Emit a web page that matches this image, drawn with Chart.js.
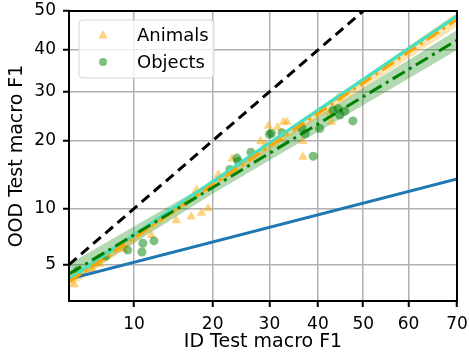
<!DOCTYPE html>
<html>
<head>
<meta charset="utf-8">
<script src="https://cdn.jsdelivr.net/npm/chart.js@4/dist/chart.umd.min.js"></script>
<style>
  body { margin: 0; background: #fff; }
</style>
</head>
<body>
<canvas id="f1Chart" width="469" height="354"></canvas>
<script>
// values are macro F1 in percent
const xTicks = [10, 20, 30, 40, 50, 60, 70];
const yTicks = [5, 10, 20, 30, 40, 50];

const animalsX = [29.8, 31.6, 32.8, 33.5, 28.3, 29.2, 23.2, 20.9, 17.6, 19.3, 18.3, 16.8, 36.8, 36.8, 43.0, 42.6, 44.4, 14.8, 11.8, 5.3, 6.5, 7.0, 9.0];
const animalsY = [22.8, 22.5, 23.6, 23.6, 19.9, 19.4, 16.9, 14.4, 12.3, 10.0, 9.5, 9.1, 19.9, 17.2, 23.6, 25.3, 28.7, 8.7, 7.3, 3.8, 4.7, 5.05, 6.1];

const objectsX = [9.4, 10.8, 10.9, 12.1, 30.0, 30.4, 32.5, 26.5, 24.0, 24.2, 22.8, 36.6, 37.3, 40.4, 43.3, 44.4, 44.8, 45.9, 47.7, 39.0, 5.5, 7.5];
const objectsY = [6.05, 5.9, 6.6, 6.8, 21.2, 21.4, 21.5, 18.0, 17.0, 16.5, 15.2, 22.3, 21.3, 22.3, 26.0, 26.3, 25.0, 25.8, 23.8, 17.3, 4.6, 5.6];

const diagX = [5, 50], diagY = [5, 50];
const baseX = [5, 70], baseY = [4.1, 13.8];
const fitX = [5, 70];
const animalsFitY = [3.95, 47.8];
const objectsFitY = [4.4, 42.5];
const allFitY = [4.1, 48.7];

const bandX = [5, 20, 70];
const animalsLo = [3.62, 12.6, 46.0];
const animalsHi = [4.3, 13.4, 49.6];
const objectsLo = [3.83, 11.8, 40.0];
const objectsHi = [5.04, 13.5, 45.1];

// inverse normal cdf (Acklam)
function probit(p) {
    const a = [-3.969683028665376e+01, 2.209460984245205e+02, -2.759285104469687e+02, 1.383577518672690e+02, -3.066479806614716e+01, 2.506628277459239e+00];
    const b = [-5.447609879822406e+01, 1.615858368580409e+02, -1.556989798598866e+02, 6.680131188771972e+01, -1.328068155288572e+01];
    const c = [-7.784894002430293e-03, -3.223964580411365e-01, -2.400758277161838e+00, -2.549732539343734e+00, 4.374664141464968e+00, 2.938163982698783e+00];
    const d = [7.784695709041462e-03, 3.224671290700398e-01, 2.445134137142996e+00, 3.754408661907416e+00];
    const pl = 0.02425;
    let q, r;
    if (p < pl) {
        q = Math.sqrt(-2 * Math.log(p));
        return (((((c[0]*q+c[1])*q+c[2])*q+c[3])*q+c[4])*q+c[5]) / ((((d[0]*q+d[1])*q+d[2])*q+d[3])*q+1);
    }
    if (p > 1 - pl) {
        q = Math.sqrt(-2 * Math.log(1 - p));
        return -(((((c[0]*q+c[1])*q+c[2])*q+c[3])*q+c[4])*q+c[5]) / ((((d[0]*q+d[1])*q+d[2])*q+d[3])*q+1);
    }
    q = p - 0.5;
    r = q * q;
    return (((((a[0]*r+a[1])*r+a[2])*r+a[3])*r+a[4])*r+a[5])*q / (((((b[0]*r+b[1])*r+b[2])*r+b[3])*r+b[4])*r+1);
}
const P = v => probit(v / 100);
const toPoints = (xs, ys) => xs.map((x, i) => ({ x: P(x), y: P(ys[i]) }));

function lineSet(label, xs, ys, color, dash, width, order) {
    return {
        label: label,
        data: toPoints(xs, ys),
        showLine: true,
        borderColor: color,
        borderWidth: width,
        borderDash: dash,
        pointRadius: 0,
        fill: false,
        order: order
    };
}
function bandEdge(xs, ys, fillColor, order) {
    return {
        label: '',
        data: toPoints(xs, ys),
        showLine: true,
        borderWidth: 0,
        borderColor: 'rgba(0,0,0,0)',
        pointRadius: 0,
        backgroundColor: fillColor,
        fill: fillColor ? '-1' : false,
        order: order
    };
}

const datasets = [
    bandEdge(bandX, objectsLo, null, 30),
    bandEdge(bandX, objectsHi, 'rgba(0,128,0,0.3)', 30),
    bandEdge(bandX, animalsLo, null, 29),
    bandEdge(bandX, animalsHi, 'rgba(255,165,0,0.3)', 29),
    {
        label: 'Animals',
        data: toPoints(animalsX, animalsY),
        pointStyle: 'triangle',
        pointRadius: 5.5,
        pointBackgroundColor: 'rgba(255,165,0,0.5)',
        pointBorderWidth: 0,
        order: 20
    },
    {
        label: 'Objects',
        data: toPoints(objectsX, objectsY),
        pointStyle: 'circle',
        pointRadius: 4.5,
        pointBackgroundColor: 'rgba(0,128,0,0.5)',
        pointBorderWidth: 0,
        order: 19
    },
    lineSet('base', baseX, baseY, '#1f77b4', [], 3, 5),
    lineSet('all', fitX, allFitY, '#48e0c0', [], 3.5, 4),
    lineSet('animals fit', fitX, animalsFitY, '#ffa500', [14, 5, 3, 5], 3, 3),
    lineSet('objects fit', fitX, objectsFitY, '#008000', [14, 5, 3, 5], 3, 2),
    lineSet('y=x', diagX, diagY, '#000000', [10, 6], 3, 1)
];

// top/right spines plus frame
const framePlugin = {
    id: 'frame',
    afterDatasetsDraw(chart) {
        const a = chart.chartArea, ctx = chart.ctx;
        ctx.save();
        ctx.strokeStyle = '#000';
        ctx.lineWidth = 2;
        ctx.strokeRect(a.left, a.top, a.right - a.left, a.bottom - a.top);
        ctx.restore();
    }
};

// legend drawn inside the axes, upper left
const legendPlugin = {
    id: 'innerLegend',
    afterDraw(chart) {
        const ctx = chart.ctx, a = chart.chartArea;
        const x0 = a.left + 10, y0 = a.top + 9, w = 135, h = 58;
        ctx.save();
        ctx.beginPath();
        ctx.roundRect(x0, y0, w, h, 4);
        ctx.fillStyle = 'rgba(255,255,255,0.8)';
        ctx.fill();
        ctx.strokeStyle = '#d5d5d5';
        ctx.lineWidth = 1;
        ctx.stroke();
        const items = [chart.data.datasets[4], chart.data.datasets[5]];
        items.forEach((ds, i) => {
            const cy = y0 + 15 + i * 27;
            ctx.fillStyle = ds.pointBackgroundColor;
            ctx.beginPath();
            if (ds.pointStyle === 'triangle') {
                const r = 5;
                ctx.moveTo(x0 + 24, cy - r);
                ctx.lineTo(x0 + 24 + r * 0.95, cy + r * 0.7);
                ctx.lineTo(x0 + 24 - r * 0.95, cy + r * 0.7);
                ctx.closePath();
            } else {
                ctx.arc(x0 + 24, cy, 4, 0, Math.PI * 2);
            }
            ctx.fill();
            ctx.fillStyle = '#000';
            ctx.font = '18px "DejaVu Sans"';
            ctx.textBaseline = 'middle';
            ctx.fillText(ds.label, x0 + 58, cy + 1);
        });
        ctx.restore();
    }
};

const tickFont = { family: 'DejaVu Sans', size: 17 };
const titleFont = { family: 'DejaVu Sans', size: 19 };

function axis(ticksList, min, max, title, titlePad, size) {
    return {
        type: 'linear',
        min: P(min),
        max: P(max),
        afterBuildTicks: s => { s.ticks = ticksList.map(v => ({ value: P(v) })); },
        afterFit: s => {
            if (s.isHorizontal()) s.height = size; else s.width = size;
            s.paddingTop = 0; s.paddingBottom = 0;
            s.paddingLeft = 0; s.paddingRight = 0;
        },
        ticks: {
            autoSkip: false,
            maxRotation: 0,
            font: tickFont,
            color: '#000',
            padding: 7,
            callback: (v, i) => String(ticksList[i])
        },
        grid: {
            color: '#b0b0b0',
            lineWidth: 1.5,
            tickColor: '#000',
            tickWidth: 2,
            tickLength: 6
        },
        border: { display: false },
        title: {
            display: true,
            text: title,
            font: titleFont,
            color: '#000',
            padding: titlePad
        }
    };
}

Chart.defaults.color = '#000';
new Chart(document.getElementById('f1Chart').getContext('2d'), {
    type: 'scatter',
    data: { datasets: datasets },
    options: {
        responsive: false,
        devicePixelRatio: 1,
        animation: false,
        layout: { padding: { top: 11, right: 12, left: 0, bottom: 0 } },
        plugins: { legend: { display: false }, tooltip: { enabled: false } },
        scales: {
            x: axis(xTicks, 5, 70, 'ID Test macro F1', { top: 0, bottom: 1 }, 53),
            y: axis(yTicks, 3, 50, 'OOD Test macro F1', { top: 6, bottom: 0 }, 69)
        }
    },
    plugins: [framePlugin, legendPlugin]
});
</script>
</body>
</html>
